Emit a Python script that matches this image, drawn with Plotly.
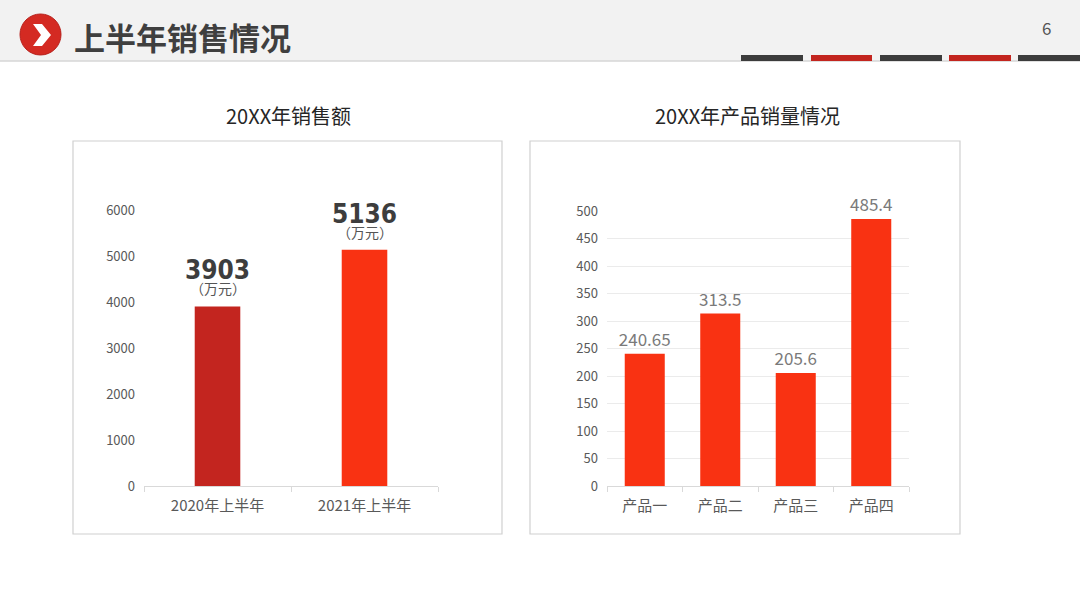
import plotly.graph_objects as go

# 左图：上半年销售额（万元）
sales_periods = ["2020年上半年", "2021年上半年"]
sales_values = [3903, 5136]
sales_colors = ["#c3251f", "#f93212"]

# 右图：产品销量
products = ["产品一", "产品二", "产品三", "产品四"]
product_values = [240.65, 313.5, 205.6, 485.4]

W, H = 1080, 608
CJK = "Noto Sans CJK SC"


def px(x):
    return x / W


def py(y):
    return 1 - y / H


fig = go.Figure()

fig.add_trace(
    go.Bar(
        x=sales_periods,
        y=sales_values,
        width=0.31,
        marker=dict(color=sales_colors, line=dict(width=0)),
        xaxis="x",
        yaxis="y",
    )
)

fig.add_trace(
    go.Bar(
        x=products,
        y=product_values,
        width=0.53,
        marker=dict(color="#f93212", line=dict(width=0)),
        text=[f"{v:g}" for v in product_values],
        textposition="outside",
        constraintext="none",
        textfont=dict(family=CJK, size=17, color="#7a7a7a"),
        cliponaxis=False,
        xaxis="x2",
        yaxis="y2",
    )
)

# 左图柱顶标签：数值 + 单位
for cat, val in zip(sales_periods, sales_values):
    fig.add_annotation(
        x=cat, y=val, xref="x", yref="y",
        text="<b>%d</b>" % val,
        showarrow=False, xanchor="center", yanchor="bottom", yshift=19,
        font=dict(family="DejaVu Sans Condensed, Liberation Sans Narrow", size=26, color="#3d3d3d"),
    )
    fig.add_annotation(
        x=cat, y=val, xref="x", yref="y",
        text="（万元）",
        showarrow=False, xanchor="center", yanchor="bottom", yshift=6,
        font=dict(family=CJK, size=14, color="#555555"),
    )

axis_font = dict(family=CJK, size=13, color="#595959")
cat_font = dict(family=CJK, size=15, color="#595959")

common_x = dict(
    showgrid=False,
    showline=True,
    linecolor="#d9d9d9",
    ticks="outside",
    tickson="boundaries",
    tickcolor="#d9d9d9",
    ticklen=5,
    ticklabelstandoff=6,
    tickfont=cat_font,
    automargin=False,
)
common_y = dict(
    zeroline=False,
    showline=False,
    ticks="",
    ticklabelstandoff=8,
    tickfont=axis_font,
    automargin=False,
)

fig.update_layout(
    width=W,
    height=H,
    margin=dict(l=0, r=0, t=0, b=0, pad=0, autoexpand=False),
    paper_bgcolor="white",
    plot_bgcolor="rgba(0,0,0,0)",
    showlegend=False,
    xaxis=dict(domain=[px(144), px(438)], anchor="y", **common_x),
    yaxis=dict(domain=[py(486), py(210)], anchor="x", range=[0, 6000], dtick=1000,
               showgrid=False, **common_y),
    xaxis2=dict(domain=[px(607), px(909)], anchor="y2", **common_x),
    yaxis2=dict(domain=[py(486), py(211)], anchor="x2", range=[0, 500], dtick=50,
                showgrid=True, gridcolor="#ebebeb", **common_y),
)

shapes = []
# 页眉底色与分隔线
shapes.append(dict(type="rect", xref="paper", yref="paper", x0=0, x1=1, y0=py(61), y1=1,
                   fillcolor="#f2f2f2", line=dict(width=0), layer="below"))
shapes.append(dict(type="line", xref="paper", yref="paper", x0=0, x1=1, y0=py(61), y1=py(61),
                   line=dict(color="#d6d6d6", width=1.5)))
# 右上角色块
for x0, x1, c in [(741, 803, "#3c3c3c"), (811, 872, "#c3251f"), (880, 942, "#3c3c3c"),
                  (949, 1011, "#c3251f"), (1018, 1080, "#3c3c3c")]:
    shapes.append(dict(type="rect", xref="paper", yref="paper", x0=px(x0), x1=px(x1),
                       y0=py(61), y1=py(55), fillcolor=c, line=dict(width=0)))
# 图标
shapes.append(dict(type="circle", xref="paper", yref="paper", x0=px(20), x1=px(61),
                   y0=py(55), y1=py(14), fillcolor="#d42a22", line=dict(color="#b71f1a", width=1)))
chev = [(33, 24), (42, 24), (51, 35), (42, 46), (33, 46), (41, 35)]
path = "M " + " L ".join(f"{px(a)},{py(b)}" for a, b in chev) + " Z"
shapes.append(dict(type="path", xref="paper", yref="paper", path=path,
                   fillcolor="white", line=dict(width=0)))
# 两个面板边框
for x0, x1 in [(73, 502), (530, 960)]:
    shapes.append(dict(type="rect", xref="paper", yref="paper", x0=px(x0), x1=px(x1),
                       y0=py(534), y1=py(141), line=dict(color="#d0d0d0", width=1.2),
                       fillcolor="rgba(0,0,0,0)", layer="below"))
fig.update_layout(shapes=shapes)

fig.add_annotation(x=px(72), y=py(36), xref="paper", yref="paper",
                   xanchor="left", yanchor="middle",
                   text="<b>上半年销售情况</b>", showarrow=False,
                   font=dict(family=CJK, size=31, color="#3f3f3f"))
fig.add_annotation(x=px(1046), y=py(28), xref="paper", yref="paper",
                   xanchor="center", yanchor="middle",
                   text="6", showarrow=False,
                   font=dict(family=CJK, size=17, color="#555555"))
fig.add_annotation(x=px(288), y=py(116), xref="paper", yref="paper",
                   xanchor="center", yanchor="middle",
                   text="20XX年销售额", showarrow=False,
                   font=dict(family=CJK, size=20, color="#262626"))
fig.add_annotation(x=px(747), y=py(116), xref="paper", yref="paper",
                   xanchor="center", yanchor="middle",
                   text="20XX年产品销量情况", showarrow=False,
                   font=dict(family=CJK, size=20, color="#262626"))

# 去掉页面默认的 8px 边距，让图正好铺满窗口
fig.write_html(
    "out.html",
    config={"displayModeBar": False},
    post_script="document.body.style.margin='0';",
)
